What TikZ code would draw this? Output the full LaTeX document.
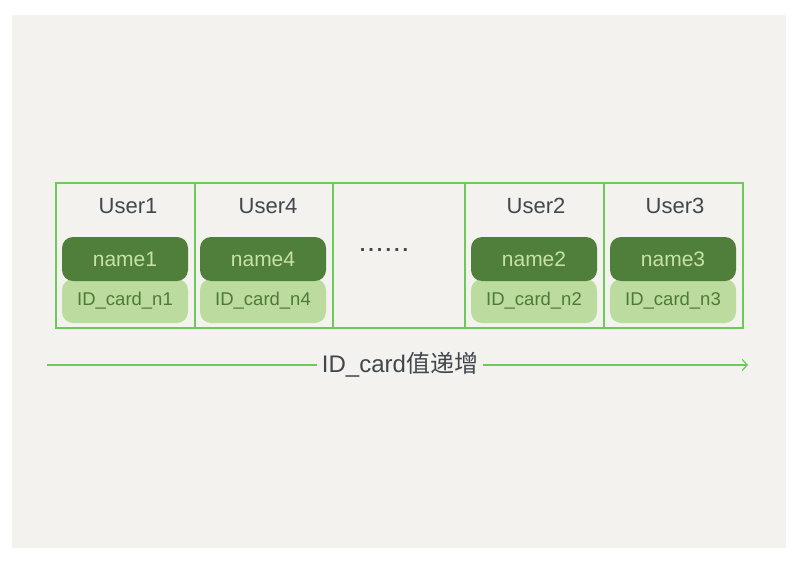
\documentclass[tikz,border=0pt]{standalone}
\usepackage{fontspec}
\setsansfont{Liberation Sans}
\newfontfamily\cjk{Noto Sans CJK SC}
\usetikzlibrary{arrows.meta,positioning}
\definecolor{paper}{HTML}{F4F2EE}
\definecolor{edge}{HTML}{6CC95A}
\definecolor{ink}{HTML}{41474D}
\definecolor{leafdark}{HTML}{4F7F3B}
\definecolor{leaflight}{HTML}{BCDB9E}
\definecolor{txtlight}{HTML}{C6E3A3}
\definecolor{txtdark}{HTML}{4C7B37}
\begin{document}
\begin{tikzpicture}[x=1pt,y=-1pt,>={Straight Barb[length=5pt,width=11pt]},font=\sffamily]
\tikzstyle{cell}=[draw=edge,line width=1.2pt,minimum height=145pt,inner sep=0pt]
\tikzstyle{user}=[text=ink,font=\sffamily\fontsize{22}{24}\selectfont]
\tikzstyle{key}=[fill=leafdark,rounded corners=11pt,minimum width=126pt,minimum height=44pt,text=txtlight,font=\sffamily\fontsize{21}{23}\selectfont]
\tikzstyle{idc}=[fill=leaflight,rounded corners=11pt,minimum width=126pt,minimum height=44pt,inner sep=1pt,text=txtdark,font=\sffamily\fontsize{18.5}{20}\selectfont]
\useasboundingbox (0,0) rectangle (802,583);
\fill[paper] (12,15) rectangle (786,548);
% rows of the index
\node[cell,minimum width=139pt] (c1) at (125.5,255.5) {};
\node[cell,minimum width=138pt] (c2) at (264,255.5) {};
\node[cell,minimum width=132pt] (c3) at (399,255.5) {};
\node[cell,minimum width=139pt] (c4) at (534.5,255.5) {};
\node[cell,minimum width=139pt] (c5) at (673.5,255.5) {};
\node[user] (u1) at (128,206) {User1};
\node[user] (u4) at (268,206) {User4};
\node[user] (u2) at (536,206) {User2};
\node[user] (u3) at (675,206) {User3};
\node[idc] (i1) at (125,301) {ID\_card\_n1}; \node[key] (n1) at (125,259) {name1};
\node[idc] (i4) at (263,301) {ID\_card\_n4}; \node[key] (n4) at (263,259) {name4};
\node[idc] (i2) at (534,301) {ID\_card\_n2}; \node[key] (n2) at (534,259) {name2};
\node[idc] (i3) at (673,301) {ID\_card\_n3}; \node[key] (n3) at (673,259) {name3};
\node[text=ink,font=\sffamily\fontsize{20}{22}\bfseries] (dots) at (384,250) {.\hspace{3pt}.\hspace{3pt}.\hspace{3pt}.\hspace{3pt}.\hspace{3pt}.};
% ordering axis
\coordinate (a0) at (47,365); \coordinate (a1) at (748,365);
\node[text=ink,inner sep=5pt,font=\sffamily\fontsize{24}{26}\selectfont] (lbl) at (400,365) {ID\_card{\cjk 值递增}};
\draw[edge,line width=1.2pt] (a0) -- (lbl);
\draw[edge,line width=1.2pt,->] (lbl) -- (a1);
\end{tikzpicture}
\end{document}
